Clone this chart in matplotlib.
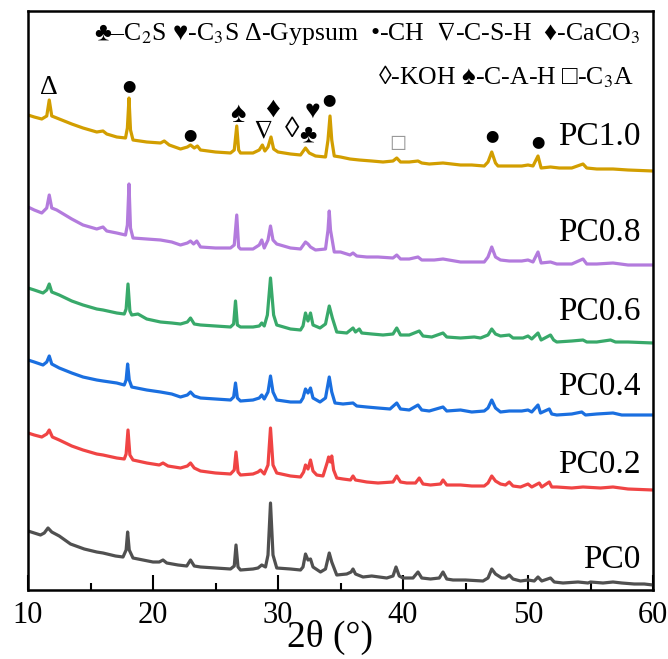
import matplotlib
matplotlib.use("Agg")
import matplotlib.pyplot as plt
from matplotlib.ticker import MultipleLocator

plt.rcParams['font.family'] = ['Liberation Serif', 'STIXGeneral', 'DejaVu Sans']
plt.rcParams['mathtext.fontset'] = 'stix'

# --- data (2theta, intensity in arbitrary stacked units) ---
x_pc0 = [10.0, 10.5, 11.0, 11.3, 11.6, 11.9, 12.5, 13.4, 14.5, 15.5, 16.0, 17.0, 17.6, 17.85, 17.97, 18.1,
         18.4, 19.2, 20.0, 20.5, 20.8, 21.1, 22.0, 22.7, 23.0, 23.3, 23.8, 25.0, 26.2, 26.5, 26.64, 26.8,
         27.0, 28.0, 28.4, 28.7, 29.0, 29.2, 29.4, 29.6, 29.9, 31.0, 31.8, 32.0, 32.2, 32.4, 32.6, 32.8,
         33.4, 33.8, 34.1, 34.3, 34.7, 35.5, 35.85, 36.0, 36.2, 36.8, 37.5, 38.7, 39.2, 39.44, 39.7, 40.0,
         40.8, 41.2, 41.5, 42.2, 42.9, 43.2, 43.5, 44.0, 45.0, 46.4, 46.8, 47.1, 47.4, 47.9, 48.2, 48.5,
         48.8, 49.4, 50.0, 50.5, 50.8, 51.1, 51.8, 52.1, 52.8, 54.0, 54.8, 55.0, 56.0, 56.8, 57.5, 58.5,
         59.3, 60.0]
y_pc0 = [59, 57, 55, 57, 62, 58, 54, 46, 41, 38, 37, 34, 33, 40, 58, 40,
         32, 30, 28, 28, 30, 27, 25, 24, 30, 24, 23, 22, 21, 24, 45, 23,
         20, 21, 22, 25, 23, 35, 87, 35, 22, 21, 20, 23, 36, 30, 31, 23,
         18, 21, 37, 28, 15, 16, 18, 21, 16, 13, 14, 12, 14, 23, 14, 12,
         12, 18, 12, 11, 12, 18, 11, 10, 10, 9, 12, 21, 16, 12, 12, 15,
         11, 9, 10, 9, 13, 9, 12, 8, 7, 8, 7, 8, 7, 8, 7, 6,
         6, 5]

x_pc02 = [10.0, 10.5, 11.1, 11.5, 11.7, 11.95, 12.5, 13.5, 14.4, 15.5, 16.0, 17.1, 17.7, 17.85, 18.0, 18.15,
          18.4, 19.5, 20.5, 20.8, 21.2, 22.2, 22.75, 23.0, 23.3, 23.8, 25.0, 26.2, 26.5, 26.64, 26.8, 27.0,
          28.0, 28.4, 28.6, 28.9, 29.2, 29.4, 29.6, 29.9, 31.0, 31.8, 32.05, 32.2, 32.4, 32.6, 32.8, 33.1,
          33.6, 33.95, 34.05, 34.2, 34.3, 34.45, 34.7, 35.2, 35.8, 36.0, 36.2, 37.1, 38.0, 39.2, 39.5, 39.8,
          40.3, 41.0, 41.3, 41.6, 42.2, 43.0, 43.2, 43.5, 44.6, 45.5, 46.5, 46.8, 47.1, 47.4, 47.8, 48.2,
          48.5, 48.8, 49.4, 50.0, 50.3, 50.9, 51.1, 51.7, 51.9, 52.3, 53.5, 54.4, 55.8, 56.8, 58.0, 60.0]
y_pc02 = [157, 155, 153, 156, 160, 153, 150, 144, 140, 136, 135, 132, 131, 136, 160, 135,
          130, 127, 125, 127, 124, 122, 124, 127, 122, 119, 117, 116, 120, 138, 118, 115,
          116, 118, 120, 116, 125, 162, 125, 117, 114, 113, 118, 125, 121, 130, 119, 115,
          114, 128, 133, 128, 134, 120, 112, 111, 110, 114, 110, 108, 107, 108, 114, 108,
          107, 107, 112, 106, 105, 106, 110, 105, 105, 104, 104, 107, 114, 109, 106, 105,
          108, 104, 103, 106, 103, 107, 103, 108, 103, 103, 102, 103, 102, 103, 101, 100]

x_pc04 = [10.0, 10.5, 11.2, 11.5, 11.7, 11.9, 12.5, 13.5, 14.4, 15.5, 16.0, 17.1, 17.7, 17.85, 17.97, 18.1,
          18.3, 19.5, 20.6, 21.5, 22.2, 22.75, 23.0, 23.3, 23.8, 25.0, 26.2, 26.45, 26.6, 26.75, 27.0, 28.0,
          28.5, 28.7, 28.9, 29.2, 29.4, 29.6, 29.9, 31.0, 31.8, 32.0, 32.2, 32.4, 32.6, 32.8, 33.36, 33.8,
          34.1, 34.3, 34.56, 35.2, 36.0, 36.3, 37.1, 38.0, 38.96, 39.5, 39.8, 40.5, 41.2, 41.5, 42.1, 43.2,
          43.5, 44.6, 45.5, 46.5, 46.8, 47.1, 47.4, 47.8, 48.5, 49.5, 50.0, 50.3, 50.8, 51.0, 51.7, 51.9,
          52.3, 53.5, 54.3, 54.6, 55.5, 56.8, 57.5, 58.5, 60.0]
y_pc04 = [230, 228, 225, 228, 234, 226, 222, 217, 213, 210, 209, 207, 205, 210, 226, 210,
          203, 200, 198, 196, 193, 195, 198, 194, 192, 191, 190, 193, 207, 192, 189, 190,
          192, 195, 191, 198, 214, 198, 190, 188, 188, 192, 201, 197, 202, 192, 188, 192,
          213, 198, 187, 186, 187, 184, 183, 182, 181, 187, 181, 180, 185, 180, 179, 183,
          179, 180, 178, 179, 182, 190, 182, 178, 179, 179, 180, 178, 185, 177, 181, 176,
          175, 176, 178, 175, 176, 177, 175, 175, 175]

x_pc06 = [10.0, 10.5, 11.2, 11.5, 11.7, 11.9, 12.5, 13.5, 14.4, 15.5, 16.0, 17.1, 17.7, 17.85, 18.0, 18.15,
          18.3, 18.8, 19.5, 20.6, 21.5, 22.2, 22.75, 23.0, 23.3, 23.8, 25.0, 26.2, 26.45, 26.6, 26.75, 27.0,
          28.0, 28.5, 28.7, 28.9, 29.15, 29.4, 29.65, 29.9, 31.0, 31.8, 32.0, 32.2, 32.4, 32.6, 32.8, 33.36,
          33.8, 34.1, 34.35, 34.7, 35.5, 36.0, 36.2, 36.5, 36.7, 37.5, 38.4, 39.2, 39.5, 39.8, 40.5, 41.3,
          41.6, 42.3, 43.2, 43.5, 44.6, 45.7, 46.2, 46.8, 47.1, 47.4, 47.8, 48.5, 48.8, 49.6, 50.0, 50.3,
          50.8, 51.05, 51.8, 52.05, 52.3, 53.5, 54.4, 54.7, 55.5, 56.6, 57.0, 58.0, 60.0]
y_pc06 = [302, 300, 297, 300, 306, 298, 295, 289, 285, 281, 280, 277, 276, 281, 306, 279,
          275, 276, 271, 268, 267, 266, 268, 272, 266, 265, 264, 263, 266, 289, 265, 263,
          263, 264, 267, 264, 275, 312, 275, 265, 261, 260, 264, 277, 269, 277, 265, 262,
          266, 284, 272, 258, 257, 262, 258, 261, 257, 256, 255, 256, 262, 255, 255, 259,
          254, 253, 257, 253, 252, 253, 252, 255, 261, 256, 254, 255, 252, 252, 254, 251,
          257, 250, 255, 250, 248, 249, 250, 248, 248, 250, 248, 248, 247]

x_pc08 = [10.0, 10.5, 11.1, 11.5, 11.7, 11.9, 12.3, 13.5, 14.4, 15.5, 16.0, 16.3, 17.1, 17.8, 17.95, 18.08,
          18.2, 18.4, 19.5, 20.6, 21.5, 22.2, 22.75, 23.0, 23.25, 23.5, 23.8, 25.0, 26.2, 26.5, 26.7, 26.85,
          27.0, 28.0, 28.5, 28.7, 28.9, 29.2, 29.4, 29.6, 29.9, 31.0, 31.8, 32.2, 32.4, 32.6, 33.0, 33.8,
          34.0, 34.1, 34.2, 34.5, 35.0, 35.76, 36.0, 36.3, 37.1, 38.0, 39.2, 39.5, 39.8, 40.5, 41.2, 41.5,
          42.5, 43.2, 44.6, 45.5, 46.5, 46.8, 47.1, 47.4, 47.8, 48.5, 49.5, 50.0, 50.4, 50.8, 51.05, 51.8,
          52.3, 53.5, 54.4, 54.7, 55.5, 56.8, 58.0, 60.0]
y_pc08 = [383, 380, 377, 382, 395, 382, 380, 371, 365, 361, 363, 359, 357, 355, 365, 406,
          362, 352, 351, 350, 348, 345, 347, 349, 346, 349, 343, 342, 342, 345, 375, 343,
          341, 341, 345, 350, 342, 350, 364, 350, 346, 342, 341, 348, 346, 343, 340, 341,
          360, 379, 360, 338, 338, 335, 337, 334, 333, 333, 332, 335, 331, 331, 333, 330,
          330, 331, 328, 328, 328, 333, 343, 333, 330, 329, 329, 330, 328, 338, 327, 328,
          326, 326, 331, 326, 326, 327, 325, 325]

x_pc10 = [10.0, 10.5, 11.1, 11.5, 11.7, 11.9, 12.3, 13.5, 14.4, 15.5, 16.0, 16.3, 17.1, 17.8, 17.95, 18.08,
          18.2, 18.4, 19.5, 20.6, 20.9, 21.3, 22.2, 22.75, 23.0, 23.3, 23.55, 23.8, 25.0, 26.2, 26.5, 26.7,
          26.85, 27.0, 28.0, 28.5, 28.75, 28.95, 29.2, 29.44, 29.65, 30.0, 31.0, 31.8, 32.2, 32.5, 33.0, 33.8,
          34.0, 34.16, 34.3, 34.5, 35.0, 35.76, 36.5, 37.5, 38.4, 39.2, 39.5, 39.8, 40.5, 41.2, 41.5, 42.1,
          43.2, 44.6, 45.5, 46.5, 46.8, 47.1, 47.4, 47.6, 48.5, 49.5, 50.0, 50.4, 50.8, 51.05, 51.8, 52.5,
          53.5, 54.4, 54.7, 55.5, 56.8, 58.0, 60.0]
y_pc10 = [475, 473, 471, 474, 490, 474, 472, 466, 462, 458, 459, 456, 453, 452, 462, 492,
          460, 450, 448, 447, 449, 445, 441, 443, 445, 442, 444, 440, 438, 437, 440, 464,
          440, 437, 437, 440, 445, 439, 443, 453, 441, 438, 436, 435, 442, 437, 434, 433,
          450, 474, 450, 434, 433, 431, 430, 429, 428, 429, 432, 428, 428, 429, 427, 426,
          427, 425, 425, 424, 428, 438, 427, 424, 424, 424, 425, 424, 434, 422, 423, 422,
          422, 426, 422, 421, 421, 420, 419]

names = ["PC0", "PC0.2", "PC0.4", "PC0.6", "PC0.8", "PC1.0"]
label_y = [30, 125, 203, 278, 357, 453]
colors = ["#505050", "#F04444", "#1A6FE0", "#38A96A", "#B37BDD", "#D29E00"]
series = [(x_pc0, y_pc0), (x_pc02, y_pc02), (x_pc04, y_pc04),
          (x_pc06, y_pc06), (x_pc08, y_pc08), (x_pc10, y_pc10)]

# phase markers above PC1.0
mark_sym = ["Δ", "●", "●", "♠", "∇", "♦", "◊", "♣", "♥", "●", "□", "●", "●"]
mark_x = [11.7, 18.1, 23.0, 26.8, 28.8, 29.6, 31.1, 32.4, 32.75, 34.1, 39.6, 47.1, 50.8]
mark_y = [502, 504, 455, 475, 458, 480, 460, 454, 478, 490, 447, 454, 448]
# size and font per glyph
mark_style = {"●": (11.5, 'STIXGeneral'), "□": (12, 'STIXGeneral'), "◊": (21, 'Liberation Serif'),
              "Δ": (20, 'Liberation Serif'), "∇": (19, 'STIXGeneral'),
              "♣": (19, 'Liberation Serif'), "♥": (19, 'Liberation Serif')}

fig = plt.figure(figsize=(6.68, 6.59), dpi=100)
ax = fig.add_axes([28/668, 1-590/659, 625/668, 579/659])

for (xs, ys), c in zip(series, colors):
    ax.plot(xs, ys, color=c, lw=2.3, solid_joinstyle='round')

for n, ly in zip(names, label_y):
    ax.text(59.0, ly, n, ha='right', va='center', fontsize=24)

for s, mx, my in zip(mark_sym, mark_x, mark_y):
    fs, fam = mark_style.get(s, (21, 'Liberation Serif'))
    col = "#999999" if s == "□" else "black"
    ax.text(mx, my, s, ha='center', va='center', fontsize=fs, color=col, family=[fam, 'STIXGeneral'])

ax.text(0.979, 0.962, r"♣–C$_2$S ♥-C$_3$S Δ-Gypsum  •-CH  $\nabla$-C-S-H  ♦-CaCO$_3$",
        transform=ax.transAxes, ha='right', va='center', fontsize=18.5)
ax.text(0.970, 0.886, r"◊-KOH ♠-C-A-H □-C$_3$A",
        transform=ax.transAxes, ha='right', va='center', fontsize=18.5)

ax.set_xlim(10, 60)
ax.set_ylim(0, 579)
ax.set_yticks([])
ax.xaxis.set_major_locator(MultipleLocator(10))
ax.xaxis.set_minor_locator(MultipleLocator(5))
ax.tick_params(axis='x', which='major', direction='in', length=11, width=1.5, labelsize=22, pad=8)
ax.tick_params(axis='x', which='minor', direction='in', length=5, width=1.5)
for sp in ax.spines.values():
    sp.set_linewidth(1.8)
ax.set_xlabel("2θ (°)", fontsize=27)
ax.xaxis.set_label_coords(0.483, -0.052)

fig.savefig("out.png", dpi=100)
